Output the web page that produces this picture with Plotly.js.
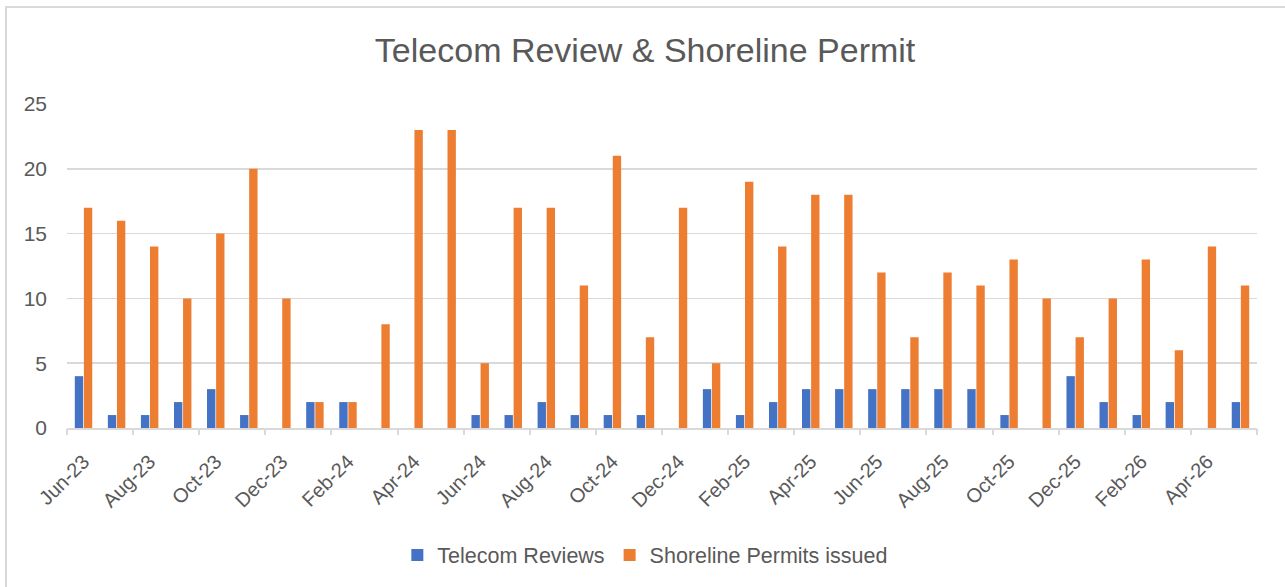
<!DOCTYPE html>
<html>
<head>
<meta charset="utf-8">
<script src="https://cdn.plot.ly/plotly-3.0.1.min.js"></script>
<style>
  html, body { margin: 0; padding: 0; background: #ffffff; }
  #wrap { position: relative; width: 1285px; height: 587px; overflow: hidden; }
  #frame { position: absolute; left: 5px; top: 6px; width: 1300px; height: 600px; border: 2px solid #d9d9d9; box-sizing: border-box; pointer-events: none; z-index: 2; }
  #chart { position: absolute; left: 0; top: 0; width: 1285px; height: 587px; }
</style>
</head>
<body>
<div id="wrap">
  <div id="chart"></div>
  <div id="frame"></div>
</div>
<script>
const months = ["Jun-23","Jul-23","Aug-23","Sep-23","Oct-23","Nov-23","Dec-23",
  "Jan-24","Feb-24","Mar-24","Apr-24","May-24","Jun-24","Jul-24","Aug-24","Sep-24","Oct-24","Nov-24","Dec-24",
  "Jan-25","Feb-25","Mar-25","Apr-25","May-25","Jun-25","Jul-25","Aug-25","Sep-25","Oct-25","Nov-25","Dec-25",
  "Jan-26","Feb-26","Mar-26","Apr-26","May-26"];
const telecomReviews = [4,1,1,2,3,1,0, 2,2,0,0,0,1,1,2,1,1,1,0, 3,1,2,3,3,3,3,3,3,1,0,4, 2,1,2,0,2];
const shorelinePermits = [17,16,14,10,15,20,10, 2,2,8,23,23,5,17,17,11,21,7,17, 5,19,14,18,18,12,7,12,11,13,10,7, 10,13,6,14,11];
const tickLabels = months.filter((m, i) => i % 2 === 0);

const boundaryTicks = [];
for (let i = 0; i <= months.length; i += 2) boundaryTicks.push(i - 0.5);

const FONT = "Liberation Sans, Arial, sans-serif";
const GREY = "#595959";

const data = [
  { type: "bar", name: "Telecom Reviews", x: months, y: telecomReviews, marker: { color: "#4472C4" } },
  { type: "bar", name: "Shoreline Permits issued", x: months, y: shorelinePermits, marker: { color: "#ED7D31" } },
  { type: "scatter", x: [], y: [], xaxis: "x2", showlegend: false, hoverinfo: "skip" }
];

const layout = {
  width: 1285, height: 587,
  margin: { l: 67, r: 28, t: 104, b: 159 },
  paper_bgcolor: "rgba(0,0,0,0)",
  plot_bgcolor: "rgba(0,0,0,0)",
  font: { family: FONT, color: GREY, size: 19 },
  title: { text: "Telecom Review & Shoreline Permit", font: { family: FONT, size: 34, color: GREY },
           x: 0.502, xanchor: "center", y: 1 - 50/587, yanchor: "middle", yref: "container" },
  barmode: "group", bargap: 0.45, bargroupgap: 0.08,
  showlegend: true,
  legend: { orientation: "h", x: 0.486, xanchor: "center", y: -0.392, yanchor: "middle",
            font: { family: FONT, size: 21.5, color: GREY }, itemclick: false },
  xaxis: {
    type: "category", categoryorder: "array", categoryarray: months,
    tickmode: "array", tickvals: tickLabels, ticktext: tickLabels,
    tickangle: -45, ticks: "", showgrid: false, zeroline: false, ticklabelstandoff: 12,
    showline: true, linecolor: "#d9d9d9", linewidth: 2,
    tickfont: { family: FONT, size: 20, color: GREY }, range: [-0.5, months.length - 0.5]
  },
  xaxis2: {
    overlaying: "x", type: "linear", range: [-0.5, months.length - 0.5], side: "bottom",
    tickmode: "array", tickvals: boundaryTicks, ticks: "outside", ticklen: 6, tickwidth: 2,
    tickcolor: "#d9d9d9", showticklabels: false, showgrid: false, zeroline: false, showline: false
  },
  yaxis: {
    range: [0, 25], tickmode: "linear", tick0: 0, dtick: 5,
    showgrid: true, gridcolor: "#d9d9d9", gridwidth: 1.5, zeroline: false, showline: false,
    ticks: "", ticklabelstandoff: 19,
    tickfont: { family: FONT, size: 21, color: GREY }
  }
};

Plotly.newPlot("chart", data, layout, { displayModeBar: false, staticPlot: true });
</script>
</body>
</html>
